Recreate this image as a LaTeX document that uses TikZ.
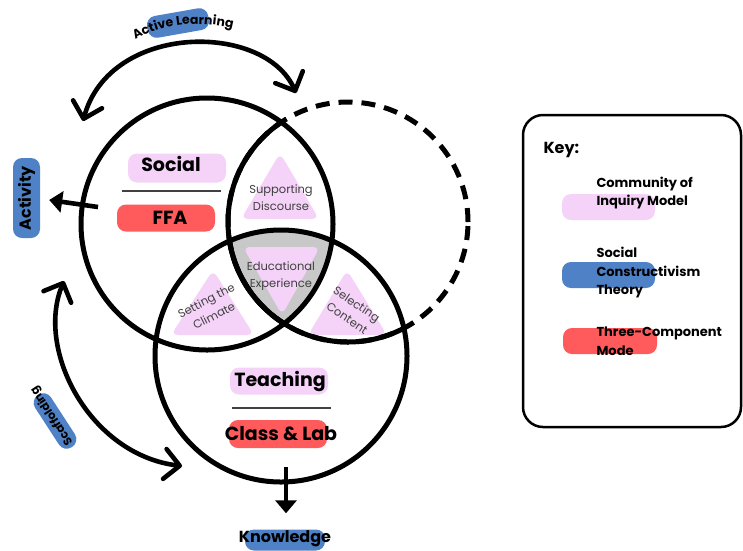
\documentclass[tikz,border=0pt]{standalone}
\usepackage{fontspec}
\setmainfont{Poppins}
\usepackage{tikz}
\usetikzlibrary{arrows.meta, positioning, decorations.text}

\definecolor{coipink}{HTML}{F5D3F8}
\definecolor{scblue}{HTML}{4F81C6}
\definecolor{tcred}{HTML}{FF5A5C}
\definecolor{eegray}{HTML}{C8C8C8}
\definecolor{tritext}{HTML}{404040}

\begin{document}
\begin{tikzpicture}[x=1pt, y=-1pt,
        venn/.style={line width=5pt},
        tri/.style={fill=coipink, rounded corners=7pt},
        hl/.style={
            rectangle,
            rounded corners=9pt,
            minimum width=98pt,
            minimum height=28pt,
            inner sep=0pt
        },
        pinkhl/.style={hl, fill=coipink},
        redhl/.style={hl, fill=tcred},
        bluehl/.style={hl, fill=scblue},
        circlelabel/.style={font=\bfseries\fontsize{19}{22}\selectfont},
        trilabel/.style={font=\fontsize{11.5}{17}\selectfont, text=tritext, align=center},
        sidelabel/.style={font=\bfseries\fontsize{16}{18}\selectfont},
        keylabel/.style={font=\bfseries\fontsize{13}{18.5}\selectfont, align=left, anchor=west},
        bendarrow/.style={line width=4.6pt,
            {Straight Barb[length=15pt,width=30pt,round]}-{Straight Barb[length=15pt,width=30pt,round]}},
        outarrow/.style={line width=4.6pt, -{Triangle[length=13pt,width=21pt]}}
    ]
    \useasboundingbox (0,0) rectangle (743,550);

    % Circle centres
    \coordinate (socialc) at (207,224);
    \coordinate (cogc) at (348,222);
    \coordinate (teachc) at (281,356);

    % Educational experience (all three)
    \begin{scope}
        \clip (socialc) circle (126pt);
        \clip (cogc) circle (120pt);
        \fill[eegray] (teachc) circle (126pt);
    \end{scope}

    % Triangles
    \fill[tri] (280,153) -- (319,219) -- (241,219) -- cycle;
    \fill[tri] (243,247) -- (320,247) -- (282,315) -- cycle;
    \fill[tri] (213,270) -- (254,335) -- (171,335) -- cycle;
    \fill[tri] (347,270) -- (387,335) -- (308,335) -- cycle;

    % Highlights
    \node[pinkhl, minimum height=29pt] (socialhl) at (177,168) {};
    \node[redhl, minimum height=27pt] (ffahl) at (166,218) {};
    \node[pinkhl, minimum height=27pt] (teachhl) at (279,381) {};
    \node[redhl] (classhl) at (278,434) {};

    % Circles
    \draw[venn, dash pattern=on 14pt off 9pt] (cogc) circle (120pt);
    \begin{scope}
        \clip (socialc) circle (126pt);
        \draw[venn] (cogc) circle (120pt);
    \end{scope}
    \begin{scope}
        \clip (teachc) circle (126pt);
        \draw[venn] (cogc) circle (120pt);
    \end{scope}
    \draw[venn] (socialc) circle (126pt);
    \draw[venn] (teachc) circle (126pt);

    % Circle labels
    \node[circlelabel] (social) at (171,164) {Social};
    \draw[line width=1.3pt, black!75] (122,191) -- (221,191);
    \node[circlelabel] (ffa) at (170,218) {FFA};
    \node[circlelabel] (teaching) at (280,381) {Teaching};
    \draw[line width=1.3pt, black!75] (232,408) -- (331,408);
    \node[circlelabel] (classlab) at (281,434) {Class \& Lab};

    % Triangle labels
    \node[trilabel] (discourse) at (281,198) {Supporting\\Discourse};
    \node[trilabel] (eduexp) at (281,276) {Educational\\Experience};
    \node[trilabel, rotate=27] (climate) at (210,308) {Setting the\\Climate};
    \node[trilabel, rotate=-34] (content) at (352,311) {Selecting\\Content};

    % Activity
    \node[bluehl, minimum width=27pt, minimum height=80pt] (activity) at (26.5,198) {};
    \node[sidelabel, rotate=90] at (activity) {Activity};
    \coordinate (actstart) at (98,207);
    \draw[outarrow] (actstart) -- ([xshift=9pt, yshift=-2pt]activity.east);

    % Knowledge
    \node[bluehl, minimum width=80pt, minimum height=21pt] (knowhl) at (285,540) {};
    \node[sidelabel] (knowledge) at (285,539) {Knowledge};
    \coordinate (knowstart) at (286,467);
    \draw[outarrow] (knowstart) -- ([yshift=16pt]knowhl.north -| knowstart);

    % Active learning
    \coordinate (alleft) at (83,121);
    \coordinate (alright) at (296,93);
    \draw[bendarrow] (alleft) .. controls (110,22) and (265,22) .. (alright);
    \node[bluehl, minimum width=62pt, minimum height=22pt, rotate=10] (alhl) at (178,23) {};
    \path[decorate, decoration={text along path, text align=center,
        text={|\bfseries\fontsize{12.5}{12.5}\selectfont|Active Learning}}]
        (126,47) .. controls (150,24) and (205,17) .. (244,32);

    % Scaffolding
    \coordinate (scafftop) at (64,281);
    \coordinate (scaffend) at (182,466);
    \draw[bendarrow] (scafftop) .. controls (35,350) and (90,455) .. (scaffend);
    \node[bluehl, minimum width=62pt, minimum height=19pt, rotate=123] (scaffhl) at (55,421) {};
    \node[font=\fontsize{11.5}{11.5}\selectfont\bfseries, rotate=123] (scaffolding) at (52,416) {Scaffolding};

    % Key
    \node[draw, line width=2.5pt, rounded corners=20pt,
        minimum width=218pt, minimum height=312pt] (keybox) at (632,271) {};
    \node[anchor=west, font=\bfseries\fontsize{16}{18}\selectfont] (keytitle) at (540,150) {Key:};

    \node[pinkhl, minimum width=93pt, minimum height=26pt] (coikey) at (608.5,207) {};
    \node[keylabel] (coitext) at (593,193) {Community of\\Inquiry Model};
    \node[bluehl, minimum width=93pt, minimum height=26pt] (sctkey) at (608.5,275) {};
    \node[keylabel] (scttext) at (593,273) {Social\\Constructivism\\Theory};
    \node[redhl, minimum width=94pt, minimum height=26pt] (tcmkey) at (610,341) {};
    \node[keylabel] (tcmtext) at (593,341) {Three-Component\\Mode};

\end{tikzpicture}
\end{document}
